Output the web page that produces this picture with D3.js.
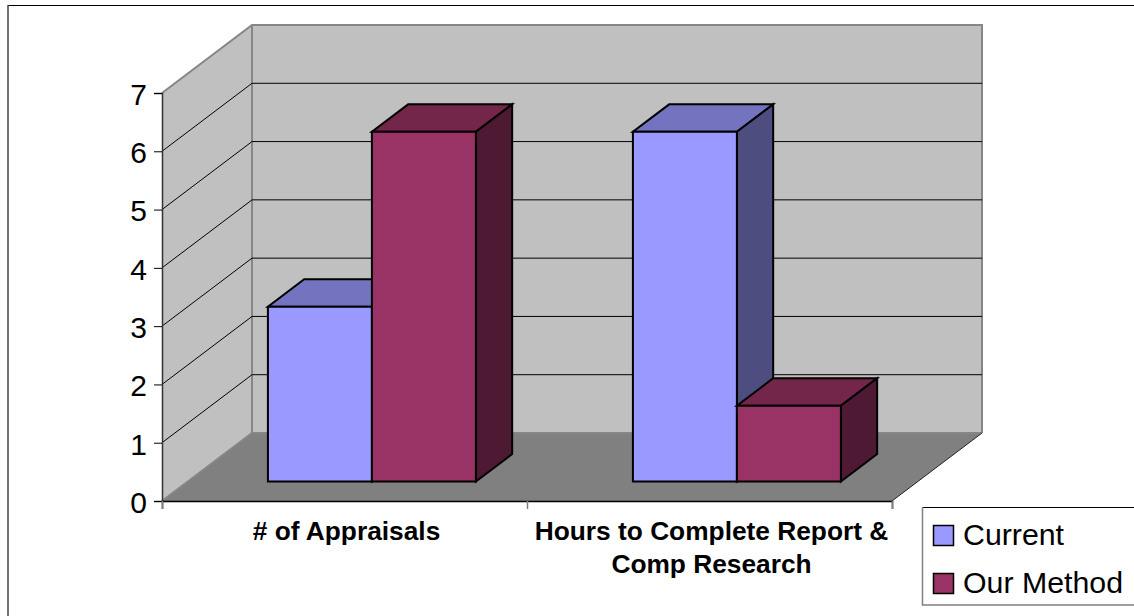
<!DOCTYPE html>
<html>
<head>
<meta charset="utf-8">
<script src="https://cdnjs.cloudflare.com/ajax/libs/d3/7.8.5/d3.min.js"></script>
<style>
  html, body { margin: 0; padding: 0; background: #fff; }
  svg { display: block; font-family: "Liberation Sans", Arial, sans-serif; }
</style>
</head>
<body>
<script>
const categories = ["# of Appraisals", "Hours to Complete Report & Comp Research"];
const categoryLines = [["# of Appraisals"], ["Hours to Complete Report &", "Comp Research"]];
const seriesNames = ["Current", "Our Method"];
const currentValues = [3, 6];
const ourMethodValues = [6, 1.3];
const yTicks = [0, 1, 2, 3, 4, 5, 6, 7];

const width = 1134;
const height = 616;

// front plane of the chart box, the back wall sits at (depthX, -depthY) from it
const marginLeft = 162;
const plotRight = 892;
const plotBottom = 501;
const plotTop = 93;
const depthX = 90;
const depthY = 68;

const wallColor = "#c0c0c0";
const floorColor = "#808080";
const edgeColor = "#868686";
const seriesColors = {
    "Current": { front: "#9999ff", top: "#7373bf", side: "#4d4d80" },
    "Our Method": { front: "#993366", top: "#732649", side: "#4d1933" }
};

const x = d3.scaleBand()
    .domain(categories)
    .range([marginLeft, plotRight]);

const xInner = d3.scaleBand()
    .domain(seriesNames)
    .range([0, x.bandwidth()])
    .paddingOuter(0.755)
    .align(0.51);

const y = d3.scaleLinear()
    .domain([0, 7])
    .range([plotBottom, plotTop]);

// oblique projection, z 0 is the front of the box and 1 the back wall
function pt(px, py, z) {
    return [px + depthX * z, py - depthY * z];
}

const poly = d3.line();

const svg = d3.select("body").append("svg")
    .attr("width", width)
    .attr("height", height)
    .attr("viewBox", [0, 0, width, height]);

// outer chart frame, only the top and left edges fall inside the picture
svg.append("line")
    .attr("x1", 8)
    .attr("x2", width)
    .attr("y1", 5.5)
    .attr("y2", 5.5)
    .attr("stroke", "#000")
    .attr("stroke-width", 1);

svg.append("line")
    .attr("x1", 8)
    .attr("x2", 8)
    .attr("y1", 5)
    .attr("y2", height)
    .attr("stroke", "#444")
    .attr("stroke-width", 1.5);

// side wall, back wall
svg.append("path")
    .attr("d", poly([pt(marginLeft, y(0), 0), pt(marginLeft, y(7), 0), pt(marginLeft, y(7), 1), pt(marginLeft, y(0), 1)]) + "Z")
    .attr("fill", wallColor);

svg.append("path")
    .attr("d", poly([pt(marginLeft, y(0), 1), pt(marginLeft, y(7), 1), pt(plotRight, y(7), 1), pt(plotRight, y(0), 1)]) + "Z")
    .attr("fill", wallColor);

// floor
svg.append("path")
    .attr("d", poly([pt(marginLeft, y(0), 0), pt(plotRight, y(0), 0), pt(plotRight, y(0), 1), pt(marginLeft, y(0), 1)]) + "Z")
    .attr("fill", floorColor);

// wall edges
const wallEdges = [
    [pt(marginLeft, y(7), 0), pt(marginLeft, y(7), 1), pt(plotRight, y(7), 1), pt(plotRight, y(0), 1)],
    [pt(marginLeft, y(7), 1), pt(marginLeft, y(0), 1)],
    [pt(marginLeft, y(0), 0), pt(marginLeft, y(0), 1), pt(plotRight, y(0), 1)]
];
svg.selectAll(".edge")
    .data(wallEdges)
    .join("path")
    .attr("class", "edge")
    .attr("d", d => poly(d))
    .attr("fill", "none")
    .attr("stroke", edgeColor)
    .attr("stroke-width", 2);

// floor edge on the right side is thin and dark
svg.append("path")
    .attr("d", poly([pt(plotRight, y(0), 0), pt(plotRight, y(0), 1)]))
    .attr("fill", "none")
    .attr("stroke", "#222")
    .attr("stroke-width", 1);

// gridlines on both walls
const gridTicks = yTicks.filter(t => t > 0 && t < 7);
svg.selectAll(".grid")
    .data(gridTicks)
    .join("path")
    .attr("class", "grid")
    .attr("d", t => poly([pt(marginLeft, y(t), 0), pt(marginLeft, y(t), 1), pt(plotRight, y(t), 1)]))
    .attr("fill", "none")
    .attr("stroke", "#000")
    .attr("stroke-width", 1);

// bars, z range from the picture
const barFrontZ = 0.287;
const barBackZ = 0.69;

const bars = [];
categories.forEach((c, i) => {
    bars.push({ category: c, series: "Current", value: currentValues[i] });
    bars.push({ category: c, series: "Our Method", value: ourMethodValues[i] });
});

const barGroups = svg.selectAll(".bar")
    .data(bars)
    .join("g")
    .attr("class", "bar");

barGroups.each(function(d) {
    const g = d3.select(this);
    const x0 = x(d.category) + xInner(d.series);
    const x1 = x0 + xInner.bandwidth();
    const yTop = y(d.value);
    const yBase = y(0);
    const colors = seriesColors[d.series];
    const faces = [
        { fill: colors.top, points: [pt(x0, yTop, barFrontZ), pt(x1, yTop, barFrontZ), pt(x1, yTop, barBackZ), pt(x0, yTop, barBackZ)] },
        { fill: colors.side, points: [pt(x1, yBase, barFrontZ), pt(x1, yTop, barFrontZ), pt(x1, yTop, barBackZ), pt(x1, yBase, barBackZ)] },
        { fill: colors.front, points: [pt(x0, yBase, barFrontZ), pt(x1, yBase, barFrontZ), pt(x1, yTop, barFrontZ), pt(x0, yTop, barFrontZ)] }
    ];
    g.selectAll("path")
        .data(faces)
        .join("path")
        .attr("d", f => poly(f.points) + "Z")
        .attr("fill", f => f.fill)
        .attr("stroke", "#000")
        .attr("stroke-width", 2)
        .attr("stroke-linejoin", "miter");
});

// y axis
svg.append("g")
    .attr("transform", `translate(${marginLeft},0)`)
    .call(d3.axisLeft(y).tickValues(yTicks).tickFormat(d3.format("d")).tickSize(8).tickPadding(7))
    .call(g => g.select(".domain").attr("stroke", "#333").attr("stroke-width", 1.5))
    .call(g => g.selectAll("text").attr("font-size", 30).attr("font-family", "Liberation Sans").attr("fill", "#000").attr("dy", "0.38em"));

// x axis, baseline plus ticks at the band edges
svg.append("g")
    .attr("transform", `translate(0,${plotBottom})`)
    .call(d3.axisBottom(d3.scaleLinear().domain([0, 2]).range([marginLeft, plotRight]))
        .tickValues([0, 1, 2]).tickFormat("").tickSize(8))
    .call(g => g.select(".domain").attr("stroke", "#000").attr("stroke-width", 1.5))
    .call(g => g.selectAll(".tick line").attr("stroke", "#808080").attr("stroke-width", 1.5));

// category labels
svg.selectAll(".cat")
    .data(categories)
    .join("text")
    .attr("class", "cat")
    .attr("y", 540)
    .attr("text-anchor", "middle")
    .attr("font-size", 26.3)
    .attr("font-weight", "bold")
    .attr("fill", "#000")
    .each(function(d, i) {
        d3.select(this).selectAll("tspan")
            .data(categoryLines[i])
            .join("tspan")
            .attr("x", x(d) + x.bandwidth() / 2 + 2)
            .attr("dy", (l, j) => j === 0 ? 0 : 33)
            .text(l => l);
    });

// legend, runs off the right edge of the picture
const legend = svg.append("g").attr("transform", "translate(922,507)");

legend.append("rect")
    .attr("width", 212)
    .attr("height", 98)
    .attr("fill", "#fff");

legend.append("line")
    .attr("x1", 0)
    .attr("x2", 212)
    .attr("y1", 0.5)
    .attr("y2", 0.5)
    .attr("stroke", "#000");

legend.append("path")
    .attr("d", "M212,98H0.5V0")
    .attr("fill", "none")
    .attr("stroke", "#808080")
    .attr("stroke-width", 1.5);

seriesNames.forEach((name, i) => {
    const row = legend.append("g").attr("transform", `translate(0,${i * 48})`);
    row.append("rect")
        .attr("x", 11.5)
        .attr("y", 18.5)
        .attr("width", 20)
        .attr("height", 20)
        .attr("fill", seriesColors[name].front)
        .attr("stroke", "#000")
        .attr("stroke-width", 1.5);
    row.append("text")
        .attr("x", 41)
        .attr("y", 38)
        .attr("font-size", 30.3)
        .attr("fill", "#000")
        .text(name);
});
</script>
</body>
</html>
